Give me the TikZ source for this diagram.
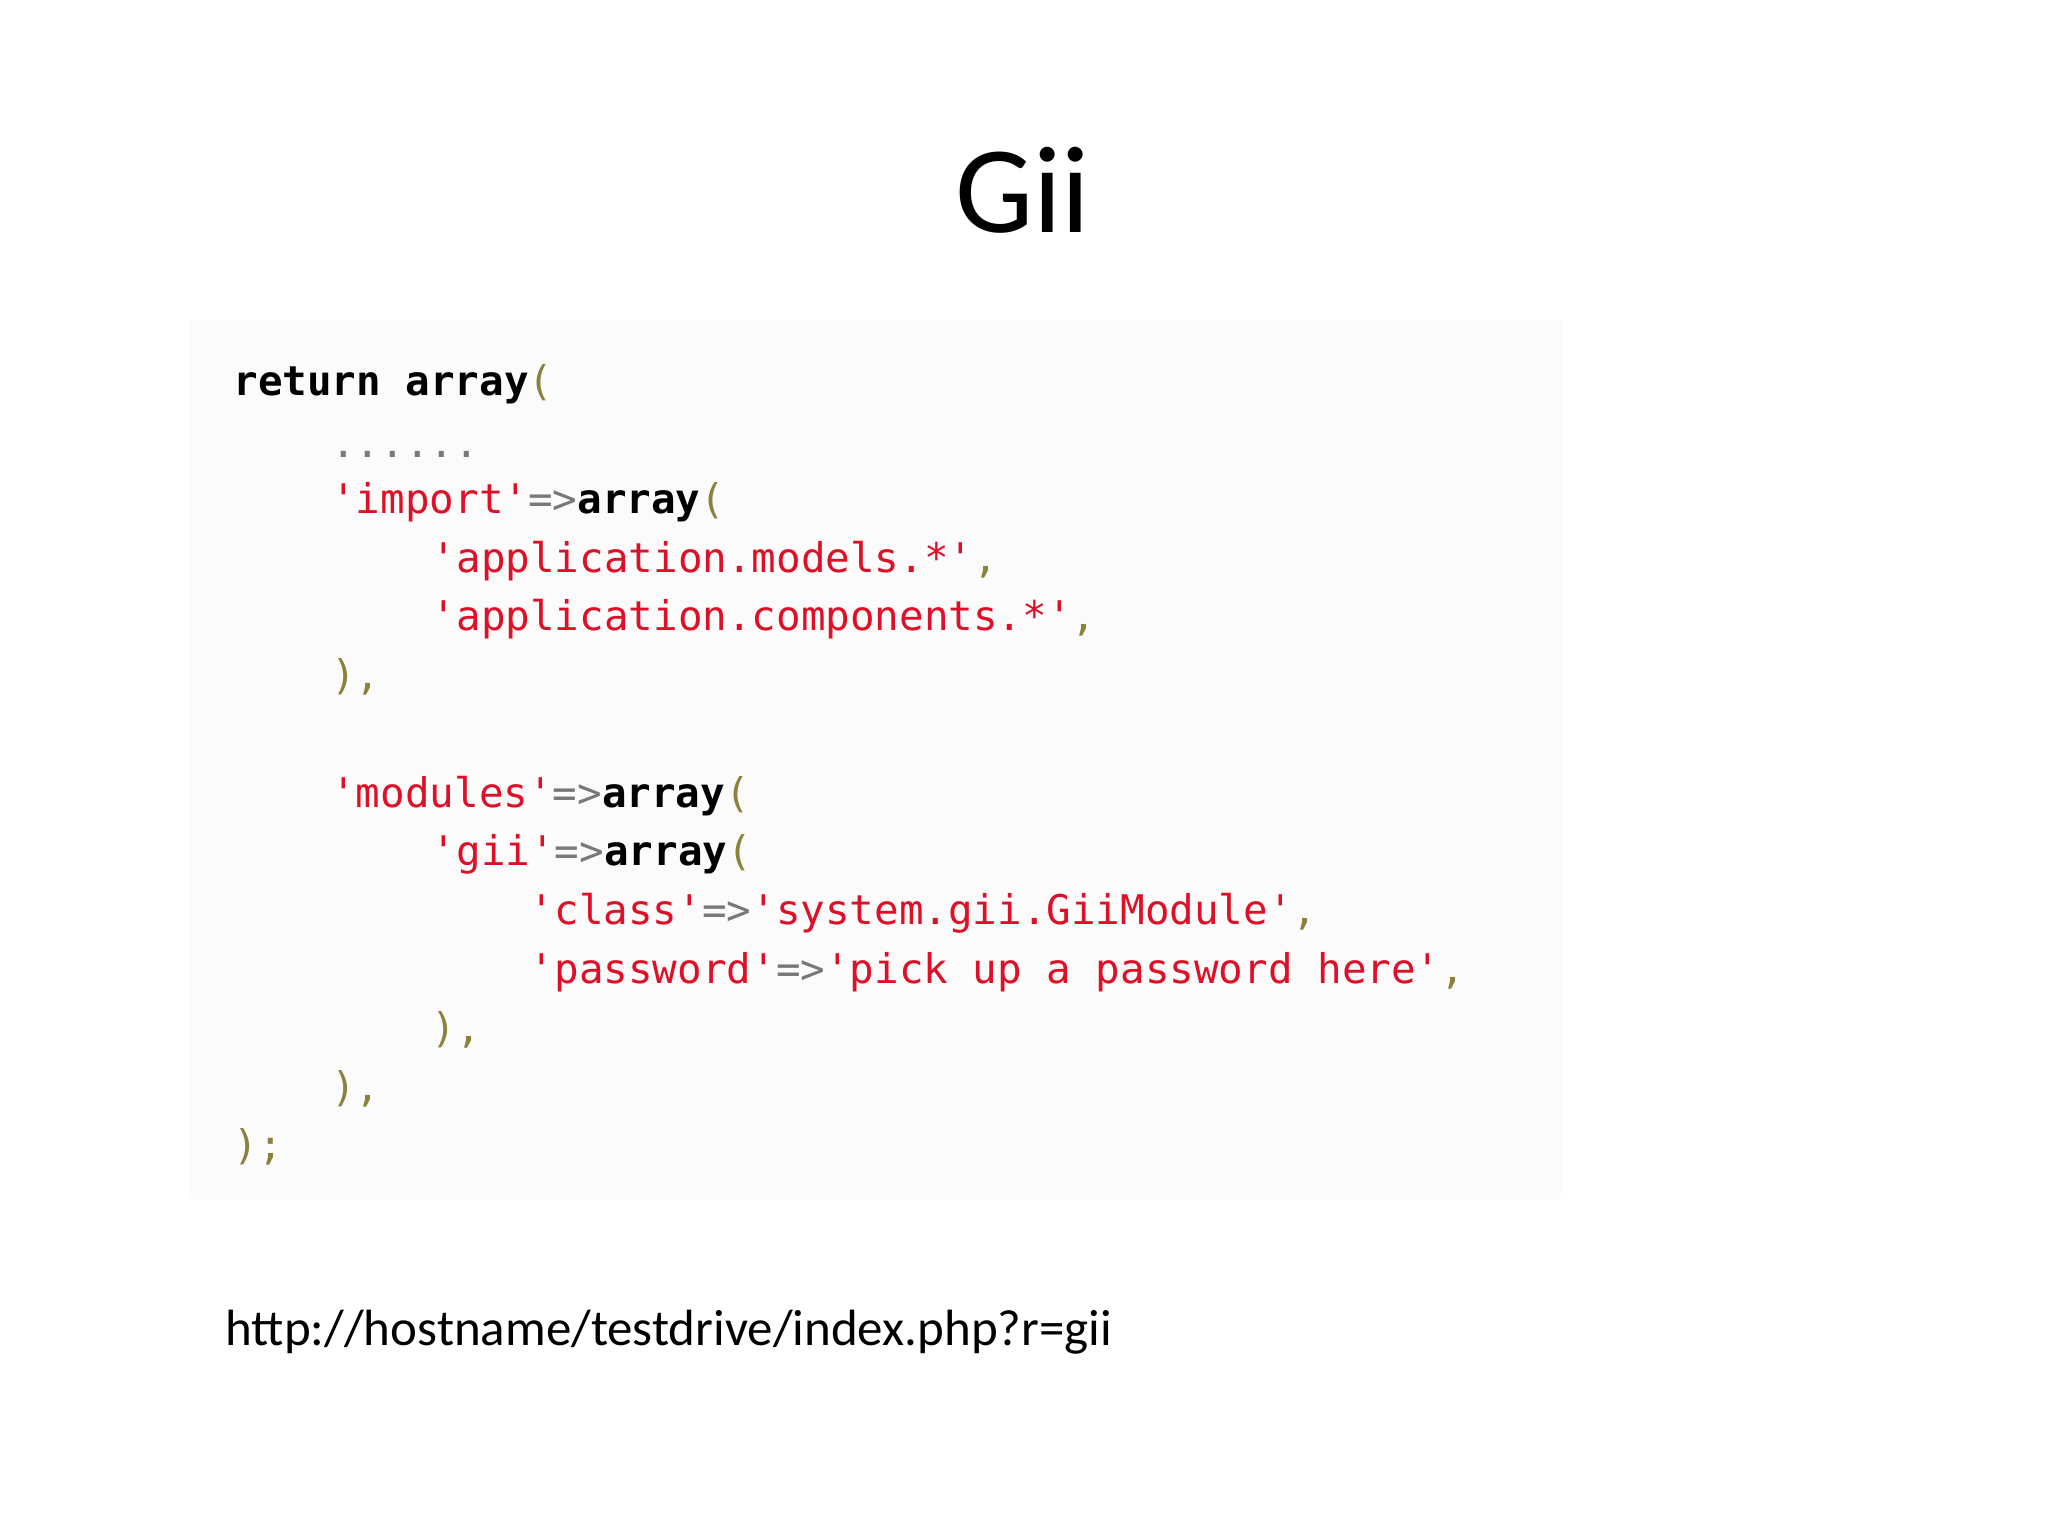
\documentclass[tikz,border=0pt]{standalone}
\usepackage{fontspec}
\setmainfont{Carlito}
\newfontfamily\codefont{DejaVu Sans Mono}
\definecolor{cred}{RGB}{222,16,40}
\definecolor{cpar}{RGB}{140,130,60}
\definecolor{cop}{RGB}{120,120,120}
\definecolor{cbg}{RGB}{251,251,252}
\newcommand{\cS}[1]{\textcolor{cred}{#1}}
\newcommand{\cK}[1]{\textbf{#1}}
\newcommand{\cP}[1]{\textcolor{cpar}{#1}}
\newcommand{\cO}[1]{\textcolor{cop}{#1}}
\begin{document}
\begin{tikzpicture}[x=0.01cm,y=-0.01cm,
  code/.style={anchor=base west,inner sep=0pt,font=\codefont\fontsize{8.9pt}{10pt}\selectfont}]
\useasboundingbox (0,0) rectangle (1568,1176);
\fill[white] (0,0) rectangle (1568,1176);
\fill[cbg] (145,245) rectangle (1195,918);
\node[anchor=base,inner sep=0pt,font=\fontsize{27pt}{32pt}\selectfont] (title) at (783,178) {Gii};
\node[code] (l1) at (178,303) {\cK{return array}\cP{(}};
\node[code] (l2) at (253,350) {\cO{......}};
\node[code] (l3) at (253,393) {\cS{'import'}\cO{=>}\cK{array}\cP{(}};
\node[code] (l4) at (330,438) {\cS{'application.models.*'}\cP{,}};
\node[code] (l5) at (330,483) {\cS{'application.components.*'}\cP{,}};
\node[code] (l6) at (253,528) {\cP{),}};
\node[code] (l7) at (253,618) {\cS{'modules'}\cO{=>}\cK{array}\cP{(}};
\node[code] (l8) at (330,663) {\cS{'gii'}\cO{=>}\cK{array}\cP{(}};
\node[code] (l9) at (405,708) {\cS{'class'}\cO{=>}\cS{'system.gii.GiiModule'}\cP{,}};
\node[code] (l10) at (405,753) {\cS{'password'}\cO{=>}\cS{'pick up a password here'}\cP{,}};
\node[code] (l11) at (330,798) {\cP{),}};
\node[code] (l12) at (253,843) {\cP{),}};
\node[code] (l13) at (178,888) {\cP{);}};
\node[anchor=base west,inner sep=0pt,font=\fontsize{11.1pt}{14pt}\selectfont] (url) at (172,1030) {http://hostname/testdrive/index.php?r=gii};
\end{tikzpicture}
\end{document}
